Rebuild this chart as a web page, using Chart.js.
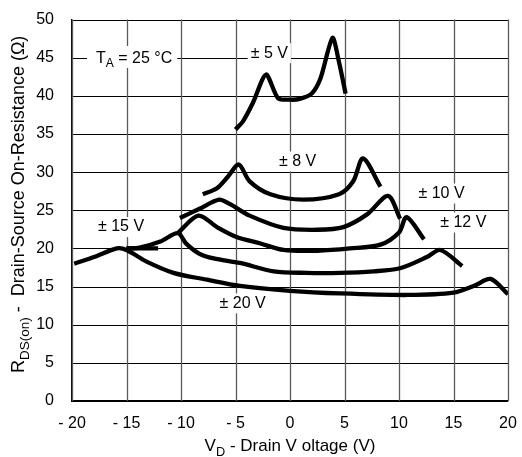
<!DOCTYPE html>
<html>
<head>
<meta charset="utf-8">
<script src="https://cdn.jsdelivr.net/npm/chart.js@4"></script>
<style>
  html, body { margin: 0; padding: 0; background: #fff; }
  #wrap { width: 522px; height: 457px; }
</style>
</head>
<body>
<div id="wrap"><canvas id="rds"></canvas></div>
<script>
// drain voltage (V) / on-resistance (ohm)
const vd5  = [-5.0, -4.3, -3.4, -2.2, -1.1, 0.0, 0.9, 2.0, 2.8, 3.9, 4.5, 5.1];
const r5   = [35.6, 36.7, 39.1, 42.8, 39.7, 39.5, 39.6, 40.3, 42.3, 47.6, 44.4, 40.3];

const vd8  = [-8.0, -6.7, -5.7, -4.7, -3.7, -1.8, 1.2, 4.5, 5.8, 6.7, 8.3];
const r8   = [27.1, 27.9, 29.4, 31.0, 28.8, 27.1, 26.4, 27.1, 28.8, 31.8, 28.1];

const vd10 = [-10.1, -8.3, -6.5, -5.5, -3.7, -0.6, 2.5, 4.9, 7.1, 9.0, 10.1];
const r10  = [24.0, 25.2, 26.4, 25.8, 24.3, 22.7, 22.45, 22.8, 24.5, 26.9, 23.9];

const vd12 = [-10.3, -8.4, -6.7, -4.9, -2.7, -0.6, 2.5, 5.5, 8.3, 10.0, 10.7, 12.3];
const r12  = [22.0, 24.3, 22.8, 21.5, 20.65, 19.8, 19.7, 20.0, 20.5, 22.1, 24.1, 21.2];

const vd15 = [-15.0, -13.8, -11.9, -10.3, -9.5, -8.3, -7.0, -4.6, -1.5, 1.5, 4.6, 7.7, 10.1, 12.6, 13.8, 15.8];
const r15  = [20.0, 20.1, 20.9, 22.0, 20.6, 19.3, 18.7, 18.1, 17.0, 16.8, 16.8, 17.0, 17.4, 18.9, 19.8, 17.7];
const vd15s = [-15.0, -12.1];
const r15s  = [20.0, 20.0];

const vd20 = [-19.8, -17.9, -15.9, -15.0, -13.2, -10.7, -7.6, -4.6, 0.0, 4.6, 10.8, 15.0, 16.9, 18.4, 20.0];
const r20  = [18.0, 18.9, 20.0, 19.8, 18.3, 16.8, 15.9, 15.1, 14.45, 14.1, 13.9, 14.2, 15.1, 16.0, 14.0];

const curveLabels = ['± 5 V', '± 8 V', '± 10 V', '± 12 V', '± 15 V', '± 20 V'];
const labelX = [-1.9, 0.7, 13.9, 15.9, -15.5, -4.35];
const labelY = [45.6, 31.4, 27.2, 23.4, 22.8, 12.8];

const FONT = '"Liberation Sans", Arial, Helvetica, sans-serif';

function pts(xs, ys) {
  return xs.map((v, i) => ({ x: v, y: ys[i] }));
}

function curve(label, xs, ys, tension) {
  return {
    label: label,
    data: pts(xs, ys),
    borderColor: '#000',
    borderWidth: 4.3,
    pointRadius: 0,
    fill: false,
    tension: tension,
    borderJoinStyle: 'round'
  };
}

// text with subscript pieces: [text, isSub]
function runsWidth(ctx, runs, size) {
  let w = 0;
  runs.forEach(r => {
    ctx.font = (r[1] ? size * 0.75 : size) + 'px ' + FONT;
    w += ctx.measureText(r[0]).width;
  });
  return w;
}
function drawRuns(ctx, runs, cx, cy, size) {
  const w = runsWidth(ctx, runs, size);
  let x = cx - w / 2;
  ctx.textAlign = 'left';
  ctx.textBaseline = 'alphabetic';
  runs.forEach(r => {
    ctx.font = (r[1] ? size * 0.75 : size) + 'px ' + FONT;
    ctx.fillText(r[0], x, cy + (r[1] ? size * 0.28 : 0));
    x += ctx.measureText(r[0]).width;
  });
  return w;
}

const notes = {
  id: 'notes',
  beforeDatasetsDraw(chart) {
    const ctx = chart.ctx, x = chart.scales.x, y = chart.scales.y, a = chart.chartArea;
    ctx.save();

    // grid from the scales' own ticks
    ctx.lineWidth = 1;
    ctx.strokeStyle = '#000';
    y.ticks.forEach(t => {
      const py = Math.round(y.getPixelForValue(t.value)) + 0.5;
      ctx.beginPath();
      ctx.moveTo(a.left, py);
      ctx.lineTo(a.right, py);
      ctx.stroke();
    });
    ctx.strokeStyle = '#5a5a5a';
    ctx.lineWidth = 1.3;
    x.ticks.forEach(t => {
      const px = Math.round(x.getPixelForValue(t.value)) + 0.5;
      ctx.beginPath();
      ctx.moveTo(px, a.top);
      ctx.lineTo(px, a.bottom);
      ctx.stroke();
    });

    ctx.font = '16px ' + FONT;
    ctx.textAlign = 'center';
    ctx.textBaseline = 'middle';
    curveLabels.forEach((t, i) => {
      const px = x.getPixelForValue(labelX[i]);
      const py = y.getPixelForValue(labelY[i]);
      const w = ctx.measureText(t).width;
      ctx.fillStyle = '#fff';
      ctx.fillRect(px - w / 2 - 3, py - 10, w + 6, 20);
      ctx.fillStyle = '#000';
      ctx.fillText(t, px, py);
    });

    // T_A = 25 °C
    const ta = [['T', false], ['A', true], [' = 25 °C', false]];
    const tx = x.getPixelForValue(-14.3), ty = y.getPixelForValue(45.1);
    const tw = runsWidth(ctx, ta, 16);
    ctx.fillStyle = '#fff';
    ctx.fillRect(tx - tw / 2 - 9, ty - 11, tw + 14, 22);
    ctx.fillStyle = '#000';
    drawRuns(ctx, ta, tx, ty + 6, 16);
    ctx.restore();
  },
  afterDraw(chart) {
    const ctx = chart.ctx, area = chart.chartArea;
    ctx.save();
    ctx.fillStyle = '#000';
    drawRuns(ctx, [['V', false], ['D', true], [' - Drain V oltage (V)', false]],
      (area.left + area.right) / 2, 451, 17);
    ctx.translate(24, (area.top + area.bottom) / 2 - 6);
    ctx.rotate(-Math.PI / 2);
    drawRuns(ctx, [['R', false], ['DS(on)', true], [' -  Drain-Source On-Resistance (Ω)', false]],
      0, 0, 18);
    ctx.restore();
  }
};

new Chart(document.getElementById('rds'), {
  type: 'line',
  data: {
    datasets: [
      curve('± 5 V', vd5, r5, 0.25),
      curve('± 8 V', vd8, r8, 0.3),
      curve('± 10 V', vd10, r10, 0.3),
      curve('± 12 V', vd12, r12, 0.3),
      curve('± 15 V', vd15, r15, 0.3),
      curve('± 15 V stub', vd15s, r15s, 0),
      curve('± 20 V', vd20, r20, 0.3)
    ]
  },
  options: {
    responsive: true,
    maintainAspectRatio: false,
    animation: false,
    layout: { padding: { top: 12, right: 14, left: 0, bottom: 0 } },
    plugins: {
      legend: { display: false },
      tooltip: { enabled: false }
    },
    scales: {
      x: {
        type: 'linear',
        min: -20,
        max: 20,
        ticks: {
          stepSize: 5,
          color: '#000',
          padding: 5,
          font: { size: 16, family: FONT },
          callback: v => v < 0 ? '- ' + Math.abs(v) : String(v)
        },
        grid: { display: false },
        border: { color: '#000', width: 1.2 },
        afterFit: s => { s.height = 56; }
      },
      y: {
        min: 0,
        max: 50,
        ticks: {
          stepSize: 5,
          color: '#000',
          padding: 10,
          font: { size: 16, family: FONT }
        },
        grid: { display: false },
        border: { color: '#000', width: 1.2 },
        afterFit: s => { s.width = 72; }
      }
    }
  },
  plugins: [notes]
});
</script>
</body>
</html>
